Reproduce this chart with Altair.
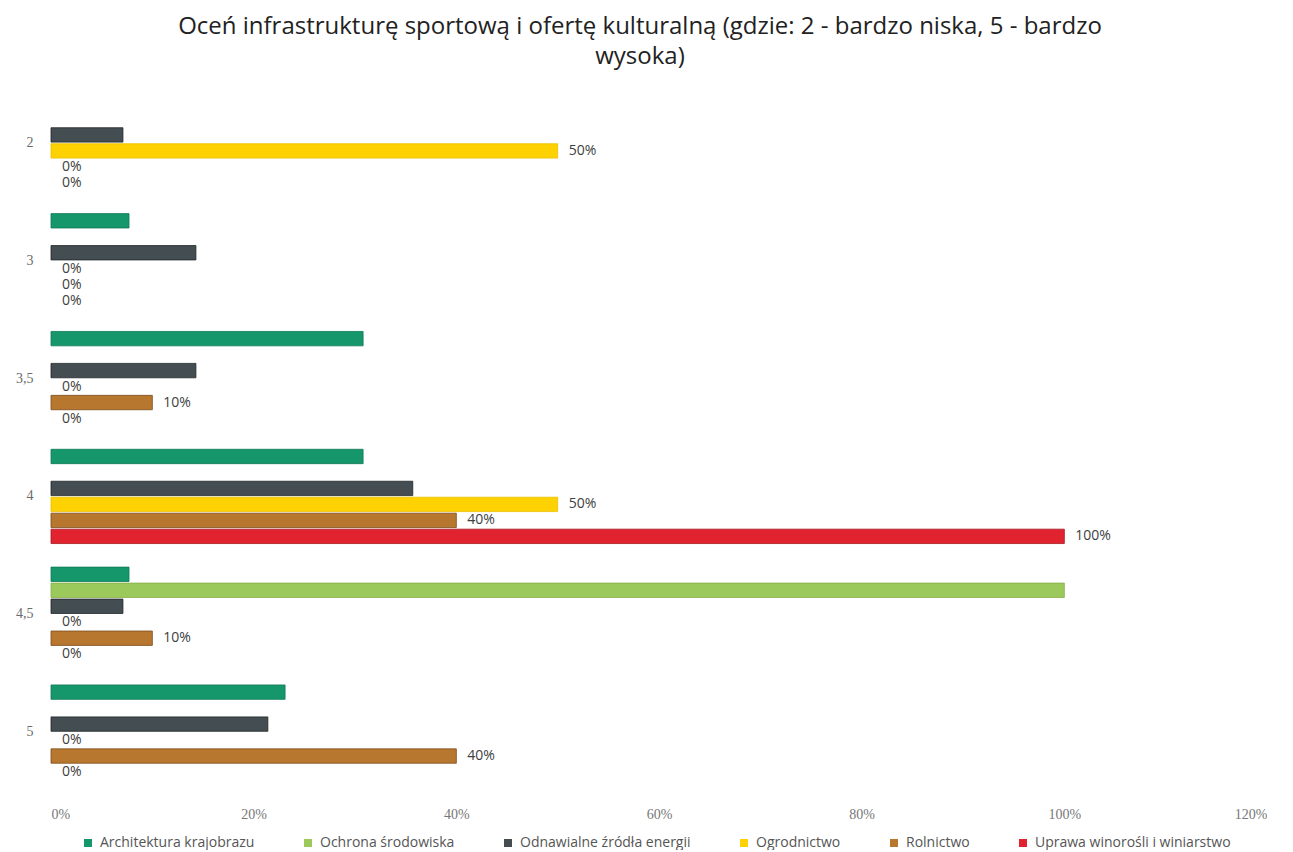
import altair as alt
import pandas as pd

categories = ["2", "3", "3,5", "4", "4,5", "5"]
series = [
    "Architektura krajobrazu",
    "Ochrona środowiska",
    "Odnawialne źródła energii",
    "Ogrodnictwo",
    "Rolnictwo",
    "Uprawa winorośli i winiarstwo",
]
architektura = [0.0, 0.077, 0.308, 0.308, 0.077, 0.231]
ochrona = [0.0, 0.0, 0.0, 0.0, 1.0, 0.0]
odnawialne = [0.071, 0.143, 0.143, 0.357, 0.071, 0.214]
ogrodnictwo = [0.5, 0.0, 0.0, 0.5, 0.0, 0.0]
rolnictwo = [0.0, 0.0, 0.1, 0.4, 0.1, 0.4]
uprawa = [0.0, 0.0, 0.0, 1.0, 0.0, 0.0]
labeled = ["Ogrodnictwo", "Rolnictwo", "Uprawa winorośli i winiarstwo"]

colors = ["#15976b", "#9cc95b", "#444e52", "#fdd102", "#b8772e", "#e1222f"]
strokes = ["#0f7a55", "#86b04a", "#1e2426", "#e8bf00", "#7a4d1c", "#a8161f"]
x_ticks = [0, 0.2, 0.4, 0.6, 0.8, 1.0, 1.2]

rows = []
for s, vals in zip(series, [architektura, ochrona, odnawialne, ogrodnictwo, rolnictwo, uprawa]):
    for c, v in zip(categories, vals):
        rows.append({"cat": c, "series": s, "value": v})
df = pd.DataFrame(rows)

FONT = "Open Sans"

y_enc = alt.Y(
    "cat:N",
    sort=categories,
    scale=alt.Scale(domain=categories, paddingInner=0.2, paddingOuter=0.1),
    axis=alt.Axis(
        title=None, labelPadding=18, ticks=False, domain=False,
        minExtent=38, maxExtent=38, labelColor="#6a6a6a", labelFontSize=14,
        labelFont="Liberation Serif",
    ),
)
yoff_enc = alt.YOffset(
    "series:N", sort=series, scale=alt.Scale(domain=series, paddingInner=0.1)
)
x_enc = alt.X(
    "value:Q",
    scale=alt.Scale(domain=[0, 1.2], nice=False),
    axis=alt.Axis(
        format=".0%", values=x_ticks, grid=False, domain=False, ticks=False,
        labelPadding=16, title=None, labelColor="#777777", labelFontSize=14,
        labelFont="Liberation Serif",
    ),
)

bars = alt.Chart(df).transform_filter(alt.datum.value > 0).mark_bar(strokeWidth=0.8).encode(
    y=y_enc,
    yOffset=yoff_enc,
    x=x_enc,
    color=alt.Color(
        "series:N",
        sort=series,
        scale=alt.Scale(domain=series, range=colors),
        legend=alt.Legend(
            orient="none", legendX=30, legendY=752, title=None, direction="horizontal",
            symbolType="square", symbolSize=64, symbolStrokeWidth=0,
            labelFontSize=14, labelColor="#555555", labelFont=FONT,
            columnPadding=46, labelOffset=5, labelLimit=400,
        ),
    ),
    stroke=alt.Stroke("series:N", scale=alt.Scale(domain=series, range=strokes), legend=None),
)

labels = alt.Chart(df).transform_filter(
    alt.FieldOneOfPredicate(field="series", oneOf=labeled)
).mark_text(align="left", baseline="middle", dx=11, fontSize=14, font=FONT, color="#404040").encode(
    y=y_enc,
    yOffset=yoff_enc,
    x=x_enc,
    text=alt.Text("value:Q", format=".0%"),
)

chart = (
    alt.layer(bars, labels)
    .properties(
        width=1216,
        height=707,
        padding={"left": 5, "top": 7, "right": 0, "bottom": 0},
        title=alt.TitleParams(
            text=[
                "Oceń infrastrukturę sportową i ofertę kulturalną (gdzie: 2 - bardzo niska, 5 - bardzo",
                "wysoka)",
            ],
            anchor="middle", fontSize=24, lineHeight=30, font=FONT,
            fontWeight="normal", color="#222222", offset=15, dx=-19,
        ),
    )
    .configure_view(stroke=None)
)

chart.save("out.html", embed_options={"renderer": "svg", "actions": False})
